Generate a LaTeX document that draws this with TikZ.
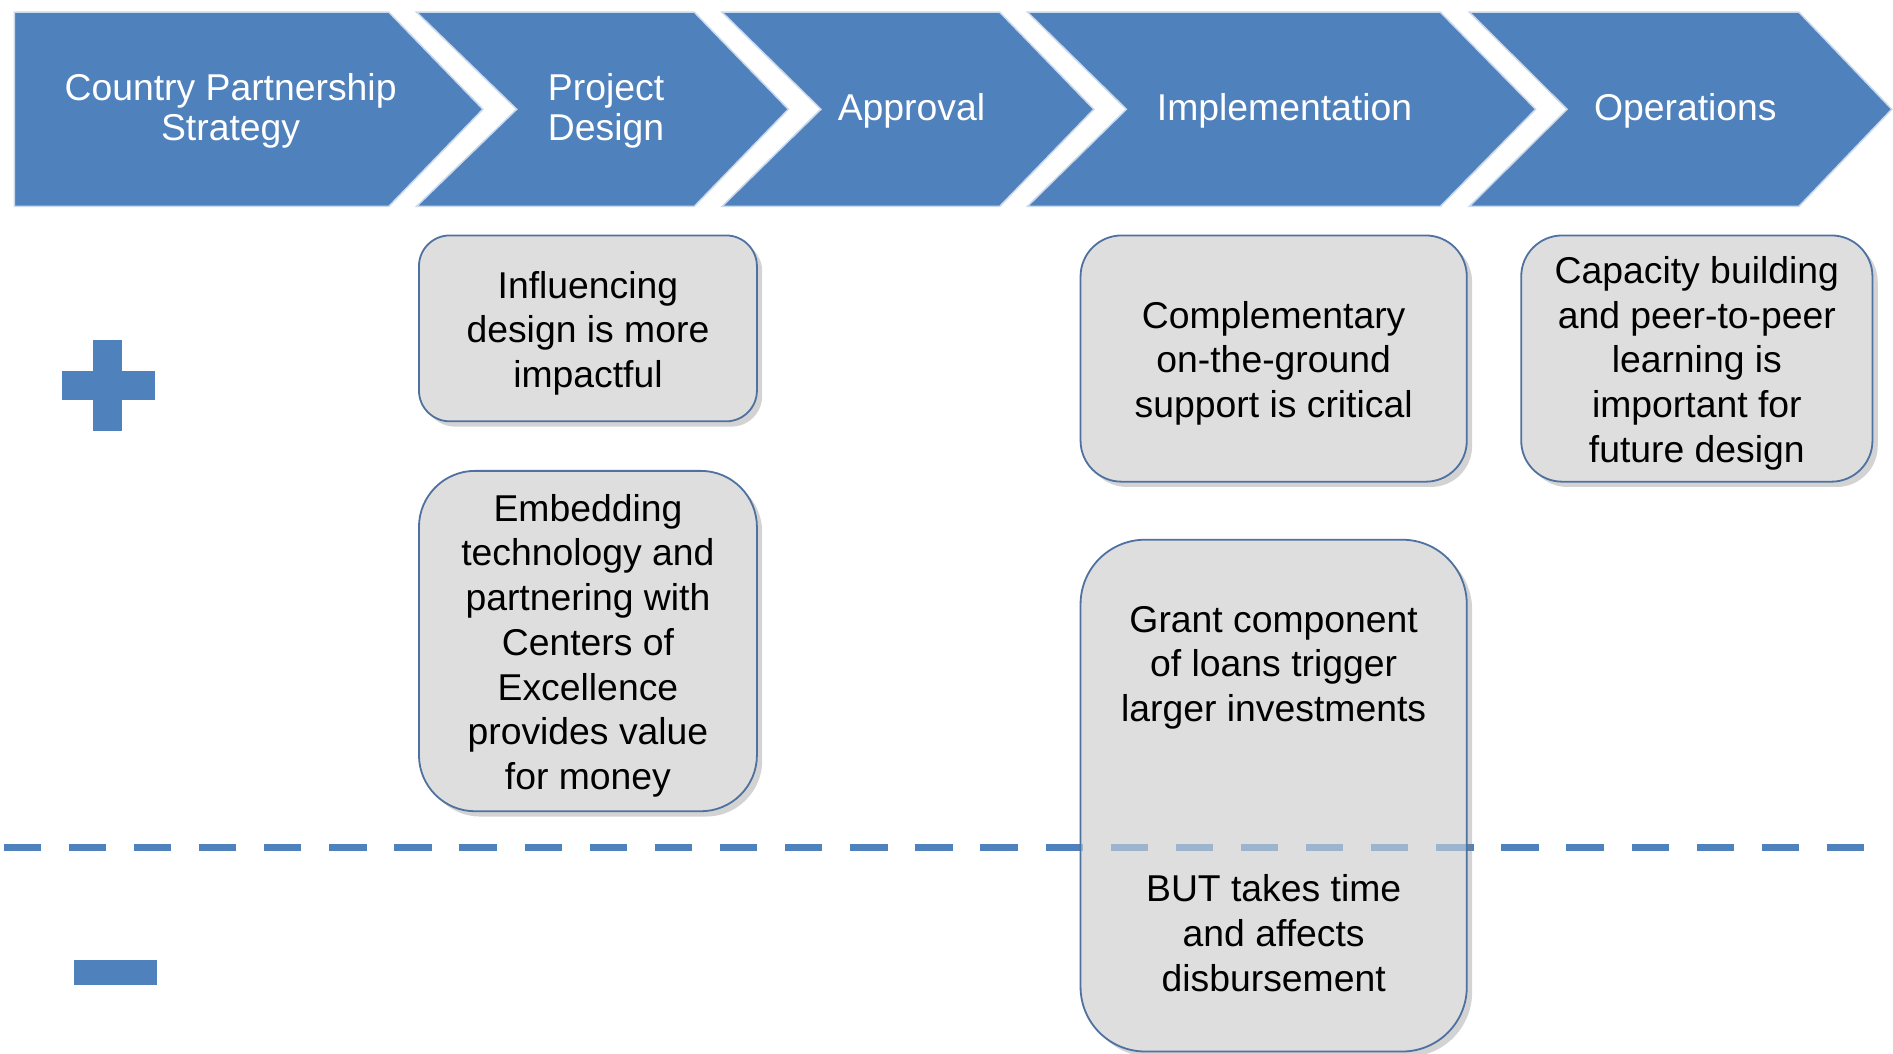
\documentclass[tikz,border=0pt]{standalone}
\usepackage{fontspec}
\setmainfont{Liberation Sans}
\usetikzlibrary{positioning,shadows}

\definecolor{stageblue}{RGB}{79,129,189}
\definecolor{boxline}{RGB}{79,113,160}
\definecolor{boxgray}{RGB}{222,222,222}

\newcommand{\topgap}{\rule{0pt}{17.2pt}}

\tikzset{
  stage/.style={fill=stageblue, draw=white!70!stageblue, line width=0.7pt},
  stagetext/.style={text=white, align=center, font=\fontsize{17.6}{18.8}\selectfont},
  note/.style={draw=boxline, line width=0.85pt, fill=boxgray, align=center, inner sep=0pt,
    font=\fontsize{17.6}{21.1}\selectfont,
    drop shadow={shadow xshift=2.5pt, shadow yshift=-2.5pt, opacity=0.35, fill=gray}},
  notetext/.style={align=center, font=\fontsize{17.6}{21.1}\selectfont},
  sepline/.style={stageblue, line width=3.1pt, dash pattern=on 17.6pt off 13.1pt},
  sign/.style={fill=stageblue}
}

\begin{document}
\begin{tikzpicture}[x=0.02cm, y=-0.02cm]
\useasboundingbox (0,0) rectangle (1568,873);

% stages along the top
\draw[stage] (12,10) -- (322,10) -- (400,90.5) -- (322,171) -- (12,171) -- cycle;
\foreach \a/\b/\c/\d in {345/428/575/653, 598/680/828/906, 851/933/1193/1272, 1217/1298/1490/1567}
  \draw[stage] (\a,10) -- (\c,10) -- (\d,90.5) -- (\c,171) -- (\a,171) -- (\b,90.5) -- cycle;

\node[stagetext] (cps) at (191,92) {Country Partnership\\Strategy};
\node[stagetext] (design) at (502,92) {Project\\Design};
\node[stagetext] (approval) at (755,92) {Approval};
\node[stagetext] (implement) at (1064,92) {Implementation};
\node[stagetext] (operate) at (1396,92) {Operations};

% plus and minus
\fill[sign] (51,307) rectangle (128,331);
\fill[sign] (77,282) rectangle (101,357);
\fill[sign] (61,795) rectangle (130,816);

% dividing line
\coordinate (sepL) at (3,702);
\coordinate (sepR) at (1550,702);
\draw[sepline] (sepL) -- (sepR);

% lessons
\node[note, minimum width=5.6cm, minimum height=3.08cm, rounded corners=0.51cm] (influence) at (487,272)
  {\topgap Influencing\\design is more\\impactful};
\node[note, minimum width=5.6cm, minimum height=5.64cm, rounded corners=0.93cm] (embed) at (487,531)
  {\topgap Embedding\\technology and\\partnering with\\Centers of\\Excellence\\provides value\\for money};
\node[note, minimum width=6.4cm, minimum height=4.08cm, rounded corners=0.68cm] (support) at (1055,297)
  {\topgap Complementary\\on-the-ground\\support is critical};
\node[note, minimum width=5.82cm, minimum height=4.08cm, rounded corners=0.68cm] (capacity) at (1405.5,297)
  {\topgap Capacity building\\and peer-to-peer\\learning is\\important for\\future design};
\node[note, minimum width=6.4cm, minimum height=8.48cm, rounded corners=1.07cm] (grant) at (1055,659) {};

% line seen through the grant box
\begin{scope}
  \clip ([xshift=0.6pt]grant.north west) rectangle ([xshift=-0.6pt]grant.south east);
  \draw[sepline, opacity=0.45] (sepL) -- (sepR);
\end{scope}

\node[notetext] (granttop) at (1055,553) {Grant component\\of loans trigger\\larger investments};
\node[notetext] (grantbot) at (1055,773) {BUT takes time\\and affects\\disbursement};

\end{tikzpicture}
\end{document}
